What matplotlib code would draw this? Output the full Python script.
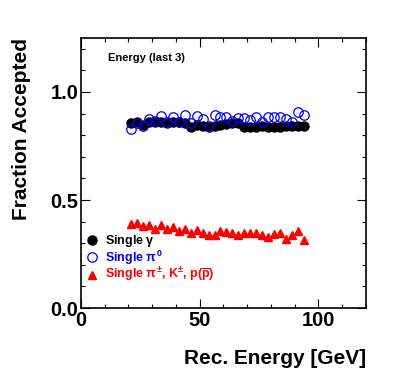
import matplotlib
matplotlib.use("Agg")
import matplotlib.pyplot as plt
import numpy as np
from matplotlib.ticker import MultipleLocator

plt.rcParams["font.family"] = ["Liberation Sans", "DejaVu Sans"]
plt.rcParams["font.weight"] = "bold"
plt.rcParams["mathtext.fontset"] = "custom"
plt.rcParams["mathtext.rm"] = "Liberation Sans:bold"
plt.rcParams["mathtext.it"] = "Liberation Sans:bold"
plt.rcParams["mathtext.bf"] = "Liberation Sans:bold"

# bin centres in GeV (2.5 GeV bins)
energy = [21.25 + 2.5 * i for i in range(30)]

# single photon
frac_gamma = [0.858, 0.862, 0.847, 0.862, 0.860, 0.862, 0.858, 0.861, 0.860, 0.855,
              0.839, 0.847, 0.843, 0.839, 0.843, 0.849, 0.852, 0.855, 0.855, 0.838,
              0.838, 0.839, 0.843, 0.837, 0.839, 0.837, 0.843, 0.843, 0.843, 0.843]

# single pi0
frac_pi0 = [0.827, 0.858, 0.843, 0.876, 0.867, 0.890, 0.861, 0.886, 0.861, 0.895,
            0.855, 0.889, 0.874, 0.843, 0.894, 0.886, 0.886, 0.867, 0.878, 0.878,
            0.870, 0.883, 0.863, 0.883, 0.886, 0.886, 0.874, 0.863, 0.909, 0.894]

# single charged hadrons
frac_had = [0.389, 0.392, 0.380, 0.384, 0.364, 0.386, 0.367, 0.376, 0.355, 0.367,
            0.346, 0.361, 0.346, 0.339, 0.336, 0.358, 0.352, 0.346, 0.338, 0.346,
            0.349, 0.346, 0.336, 0.330, 0.343, 0.349, 0.318, 0.336, 0.355, 0.315]

labels = [r"Single $\gamma$", r"Single $\pi^{0}$",
          r"Single $\pi^{\pm}$, K$^{\pm}$, p($\overline{\rm p}$)"]

fig = plt.figure(figsize=(4.07, 3.87), dpi=100)
ax = fig.add_axes([0.199, 0.204, 0.700, 0.698])

h1, = ax.plot(energy, frac_gamma, "o", color="black", ms=6.5, ls="none")
h2, = ax.plot(energy, frac_pi0, "o", mfc="none", mec="#0000ff", mew=0.9, ms=6.8, ls="none")
h3, = ax.plot(energy, frac_had, "^", color="#ff0000", ms=6, ls="none")

ax.set_xlim(0, 120)
ax.set_ylim(0, 1.25)
ax.xaxis.set_major_locator(MultipleLocator(50))
ax.xaxis.set_minor_locator(MultipleLocator(10))
ax.yaxis.set_major_locator(MultipleLocator(0.5))
ax.yaxis.set_minor_locator(MultipleLocator(0.1))
ax.set_yticks([0, 0.5, 1.0])
ax.set_yticklabels(["0.0", "0.5", "1.0"])
ax.tick_params(which="both", direction="in", top=True, right=True, labelsize=14.5, width=0.8)
ax.tick_params(which="major", length=6.5, pad=2)
ax.tick_params(which="minor", length=3.2)
for s in ax.spines.values():
    s.set_linewidth(1.2)

ax.set_xlabel("Rec. Energy [GeV]", fontsize=15, fontweight="bold", loc="right")
ax.xaxis.set_label_coords(1.0, -0.15)
ax.set_ylabel("Fraction Accepted", fontsize=15, fontweight="bold", loc="top")
ax.yaxis.set_label_coords(-0.175, 1.0)

ax.text(0.095, 0.926, "Energy (last 3)", transform=ax.transAxes, fontsize=8,
        fontweight="bold", va="center", ha="left")

leg = ax.legend([h1, h2, h3], labels, loc="lower left", bbox_to_anchor=(0.015, 0.088),
                frameon=False, fontsize=9, handlelength=1.0, handletextpad=0.6,
                labelspacing=-0.05, borderpad=0, borderaxespad=0)
for txt, c in zip(leg.get_texts(), ["black", "#0000ff", "#ff0000"]):
    txt.set_color(c)

fig.savefig("out.png", dpi=100)
